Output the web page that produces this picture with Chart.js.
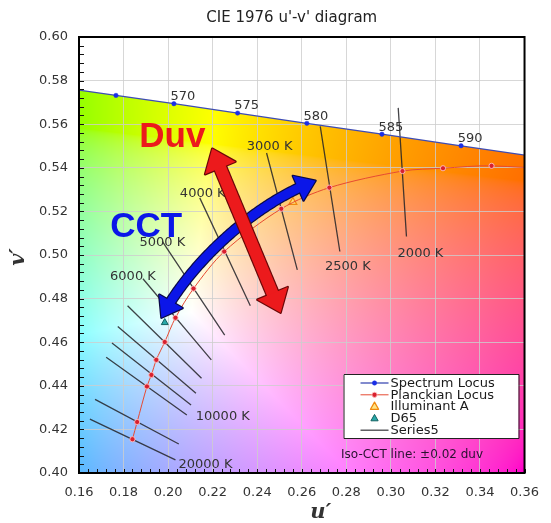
<!DOCTYPE html>
<html>
<head>
<meta charset="utf-8">
<title>CIE 1976 u'-v' diagram</title>
<script src="https://cdn.jsdelivr.net/npm/chart.js@4.4.1/dist/chart.umd.min.js"></script>
<style>
  html, body { margin: 0; padding: 0; background: #fff; }
  canvas { display: block; }
</style>
</head>
<body>
<canvas id="cie" width="551" height="523"></canvas>
<script>
// Spectrum locus (u', v') with wavelength labels as printed on the chart
const spectrumU = [0.1531, 0.1766, 0.2026, 0.2312, 0.2623, 0.2960, 0.3315, 0.3681];
const spectrumV = [0.5766, 0.5732, 0.5694, 0.5651, 0.5604, 0.5554, 0.5501, 0.5446];
const spectrumLabels = ['', '', '570', '575', '580', '585', '590', ''];

// Planckian locus
const planckT = [20000, 15000, 10000, 9000, 8000, 7000, 6000, 5000, 4000, 3000, 2500, 2000, 1800, 1600, 1200];
const planckU = [0.1840, 0.1861, 0.1905, 0.1925, 0.1947, 0.1985, 0.2033, 0.2114, 0.2252, 0.2508, 0.2724, 0.3052, 0.3234, 0.3452, 0.4059];
const planckV = [0.4155, 0.4234, 0.4397, 0.4450, 0.4519, 0.4601, 0.4712, 0.4846, 0.5016, 0.5212, 0.5309, 0.5385, 0.5398, 0.5409, 0.5369];

// Illuminants
const illumA = [0.2560, 0.5243];
const illumD65 = [0.1985, 0.4690];

// Iso-CCT lines (+/-0.02 duv), upper end (1) and lower end (2)
const isoT = [2000, 2500, 3000, 4000, 5000, 6000, 7000, 8000, 9000, 10000, 15000, 20000];
const isoLabels = ['2000 K', '2500 K', '3000 K', '4000 K', '5000 K', '6000 K', '', '', '', '10000 K', '', '20000 K'];
const isoU1 = [0.3033, 0.2683, 0.2442, 0.2142, 0.1974, 0.1887, 0.1818, 0.1774, 0.1748, 0.1722, 0.1672, 0.1649];
const isoV1 = [0.5675, 0.5590, 0.5468, 0.5262, 0.5062, 0.4891, 0.4767, 0.4672, 0.4596, 0.4531, 0.4338, 0.4247];
const isoU2 = [0.3070, 0.2771, 0.2580, 0.2369, 0.2254, 0.2194, 0.2150, 0.2125, 0.2103, 0.2084, 0.2048, 0.2033];
const isoV2 = [0.5085, 0.5016, 0.4932, 0.4767, 0.4632, 0.4519, 0.4435, 0.4366, 0.4312, 0.4266, 0.4133, 0.4060];

// Axes
const uRange = [0.16, 0.36];
const vRange = [0.40, 0.60];
const tickStep = 0.02;

const legendNames = ['Spectrum Locus', 'Planckian Locus', 'Illuminant A', 'D65', 'Series5'];
const noteText = 'Iso-CCT line: \u00b10.02 duv';

// ---------------------------------------------------------------

const FONT = '"DejaVu Sans", "Lucida Grande", sans-serif';

// where each iso-CCT label sits relative to the end of its line (px)
const isoLabelPlace = {
    2000: { end: 2, dx: 14, dy: 17 },
    2500: { end: 2, dx: 8, dy: 15 },
    3000: { end: 1, dx: 3, dy: -6 },
    4000: { end: 1, dx: 3, dy: -4 },
    5000: { end: 1, dx: 0, dy: 1 },
    6000: { end: 1, dx: -10, dy: -2 },
    10000: { end: 2, dx: 36, dy: 2 },
    20000: { end: 2, dx: 30, dy: 5 }
};

// annotation arrows / text, in u'v' units
const duvArrow = [[0.2198, 0.5488], [0.2505, 0.4735]];
const cctArrow = [[0.1970, 0.4712], [0.2075, 0.4923], [0.2347, 0.5217], [0.2662, 0.5341]];
const duvText = [0.2019, 0.5538];
const cctText = [0.1902, 0.5125];

const pts = (us, vs) => us.map((u, i) => ({ x: u, y: vs[i] }));

const isoData = [];
isoT.forEach((t, i) => {
    isoData.push({ x: isoU1[i], y: isoV1[i] }, { x: isoU2[i], y: isoV2[i] }, { x: null, y: null });
});

function locusV(u) {
    for (let i = 0; i < spectrumU.length - 1; i++) {
        if (u <= spectrumU[i + 1]) {
            const f = (u - spectrumU[i]) / (spectrumU[i + 1] - spectrumU[i]);
            return spectrumV[i] + f * (spectrumV[i + 1] - spectrumV[i]);
        }
    }
    return spectrumV[spectrumV.length - 1];
}

function gammaEnc(c) {
    c = Math.min(1, Math.max(0, c));
    return c <= 0.0031308 ? 12.92 * c : 1.055 * Math.pow(c, 1 / 2.4) - 0.055;
}

function xyzToLin(X, Y, Z) {
    return [
        3.2406 * X - 1.5372 * Y - 0.4986 * Z,
        -0.9689 * X + 1.8758 * Y + 0.0415 * Z,
        0.0557 * X - 0.2040 * Y + 1.0570 * Z
    ];
}

// equal-energy white is rendered as white
const whiteE = xyzToLin(1, 1, 1);

function uvToRgb(u, v) {
    const d = 6 * u - 16 * v + 12;
    const x = 9 * u / d, y = 4 * v / d;
    const c = xyzToLin(x / y, 1, (1 - x - y) / y).map((c, i) => Math.max(c / whiteE[i], 0));
    const m = Math.max(c[0], c[1], c[2]) || 1;
    return c.map(k => gammaEnc(k / m) * 255);
}

const chromaBackground = {
    id: 'chromaBackground',
    beforeDraw(chart) {
        const { ctx, chartArea: a, scales: { x, y } } = chart;
        const w = Math.round(a.right - a.left), h = Math.round(a.bottom - a.top);
        if (!chart.$chroma) {
            const off = document.createElement('canvas');
            off.width = w; off.height = h;
            const octx = off.getContext('2d');
            const img = octx.createImageData(w, h);
            for (let j = 0; j < h; j++) {
                const v = y.getValueForPixel(a.top + j + 0.5);
                for (let i = 0; i < w; i++) {
                    const u = x.getValueForPixel(a.left + i + 0.5);
                    const k = (j * w + i) * 4;
                    let c = [255, 255, 255];
                    if (v <= locusV(u)) c = uvToRgb(u, v);
                    img.data[k] = c[0]; img.data[k + 1] = c[1]; img.data[k + 2] = c[2]; img.data[k + 3] = 255;
                }
            }
            octx.putImageData(img, 0, 0);
            chart.$chroma = off;
        }
        ctx.drawImage(chart.$chroma, a.left, a.top);
    }
};

function sampleCubic(p, n) {
    const out = [];
    for (let i = 0; i <= n; i++) {
        const t = i / n, s = 1 - t;
        out.push([
            s * s * s * p[0][0] + 3 * s * s * t * p[1][0] + 3 * s * t * t * p[2][0] + t * t * t * p[3][0],
            s * s * s * p[0][1] + 3 * s * s * t * p[1][1] + 3 * s * t * t * p[2][1] + t * t * t * p[3][1]
        ]);
    }
    return out;
}

function pointAtLen(line, cum, s) {
    for (let i = 1; i < line.length; i++) {
        if (cum[i] >= s) {
            const f = (s - cum[i - 1]) / (cum[i] - cum[i - 1] || 1);
            return [line[i - 1][0] + f * (line[i][0] - line[i - 1][0]), line[i - 1][1] + f * (line[i][1] - line[i - 1][1])];
        }
    }
    return line[line.length - 1];
}

function drawArrow(ctx, line, shaftW, headW, headL, fill, edge) {
    const cum = [0];
    for (let i = 1; i < line.length; i++) {
        cum.push(cum[i - 1] + Math.hypot(line[i][0] - line[i - 1][0], line[i][1] - line[i - 1][1]));
    }
    const total = cum[cum.length - 1];
    const shaft = [];
    for (let s = headL - 2; s <= total - headL + 2; s += 2) shaft.push(pointAtLen(line, cum, s));
    shaft.push(pointAtLen(line, cum, total - headL + 2));

    const head = (tip, back) => {
        let dx = tip[0] - back[0], dy = tip[1] - back[1];
        const len = Math.hypot(dx, dy); dx /= len; dy /= len;
        const bx = tip[0] - dx * headL, by = tip[1] - dy * headL;
        return [tip, [bx - dy * headW / 2, by + dx * headW / 2], [bx + dy * headW / 2, by - dx * headW / 2]];
    };
    const heads = [
        head(line[0], pointAtLen(line, cum, headL)),
        head(line[line.length - 1], pointAtLen(line, cum, total - headL))
    ];

    const pass = (color, extra) => {
        ctx.strokeStyle = color; ctx.fillStyle = color;
        ctx.lineJoin = 'round'; ctx.lineCap = 'butt';
        ctx.lineWidth = shaftW + extra * 2;
        ctx.beginPath();
        shaft.forEach((p, i) => i ? ctx.lineTo(p[0], p[1]) : ctx.moveTo(p[0], p[1]));
        ctx.stroke();
        heads.forEach(hd => {
            ctx.beginPath();
            ctx.moveTo(hd[0][0], hd[0][1]); ctx.lineTo(hd[1][0], hd[1][1]); ctx.lineTo(hd[2][0], hd[2][1]);
            ctx.closePath();
            ctx.fill();
            if (extra) { ctx.lineWidth = extra * 2; ctx.stroke(); }
        });
    };
    pass(edge, 1.2);
    pass(fill, 0);
}

const annotations = {
    id: 'annotations',
    afterDatasetsDraw(chart) {
        const { ctx, chartArea: a, scales: { x, y } } = chart;
        const px = (p) => [x.getPixelForValue(p[0]), y.getPixelForValue(p[1])];
        ctx.save();

        // minor ticks on the inside of the left and bottom axes
        ctx.strokeStyle = '#111';
        ctx.lineWidth = 1;
        ctx.beginPath();
        for (let k = 0; k <= 50; k++) {
            const yy = Math.round(y.getPixelForValue(vRange[0] + k * 0.004)) + 0.5;
            ctx.moveTo(a.left, yy); ctx.lineTo(a.left + 5, yy);
            const xx = Math.round(x.getPixelForValue(uRange[0] + k * 0.004)) + 0.5;
            ctx.moveTo(xx, a.bottom); ctx.lineTo(xx, a.bottom - 4);
        }
        ctx.stroke();

        // frame
        ctx.strokeStyle = '#000';
        ctx.lineWidth = 2;
        ctx.strokeRect(a.left, a.top, a.right - a.left, a.bottom - a.top);

        // wavelength labels
        ctx.font = '13px ' + FONT;
        ctx.fillStyle = '#333';
        ctx.textAlign = 'center';
        ctx.textBaseline = 'middle';
        spectrumLabels.forEach((lab, i) => {
            if (!lab) return;
            const p = px([spectrumU[i], spectrumV[i]]);
            ctx.fillText(lab, p[0] + 9, p[1] - 7);
        });

        // iso-CCT labels
        isoT.forEach((t, i) => {
            const pl = isoLabelPlace[t];
            if (!pl || !isoLabels[i]) return;
            const p = pl.end === 1 ? px([isoU1[i], isoV1[i]]) : px([isoU2[i], isoV2[i]]);
            ctx.fillText(isoLabels[i], p[0] + pl.dx, p[1] + pl.dy);
        });

        // arrows
        drawArrow(ctx, sampleCubic(cctArrow.map(px), 80), 9, 27, 19, '#0b16e8', '#0a0a45');
        drawArrow(ctx, duvArrow.map(px), 12, 33, 21, '#ec1a1c', '#6a0808');

        ctx.font = 'bold 35px "Liberation Sans", Arial, sans-serif';
        ctx.fillStyle = '#0b16e8';
        let p = px(cctText);
        ctx.fillText('CCT', p[0], p[1]);
        ctx.fillStyle = '#ec1a1c';
        p = px(duvText);
        ctx.fillText('Duv', p[0], p[1]);

        // legend
        const ds = chart.data.datasets;
        const bx = a.right - 181, by = a.bottom - 99, bw = 175, bh = 64;
        ctx.fillStyle = '#fff';
        ctx.fillRect(bx, by, bw, bh);
        ctx.strokeStyle = '#222';
        ctx.lineWidth = 1;
        ctx.strokeRect(bx + 0.5, by + 0.5, bw, bh);
        ctx.font = '13px ' + FONT;
        ctx.textAlign = 'left';
        ctx.textBaseline = 'middle';
        legendNames.forEach((name, i) => {
            const d = ds[i];
            const ry = by + 9 + i * 11.8;
            const sx0 = bx + 17, sx1 = bx + 45, cx = (sx0 + sx1) / 2;
            if (d.showLine) {
                ctx.strokeStyle = d.borderColor;
                ctx.lineWidth = d.borderWidth;
                ctx.beginPath(); ctx.moveTo(sx0, ry); ctx.lineTo(sx1, ry); ctx.stroke();
            }
            if (d.pointRadius > 0) {
                ctx.fillStyle = d.pointBackgroundColor;
                ctx.strokeStyle = d.pointBorderColor;
                ctx.lineWidth = d.pointBorderWidth || 1;
                ctx.beginPath();
                if (d.pointStyle === 'triangle') {
                    const r = d.pointRadius;
                    ctx.moveTo(cx, ry - r); ctx.lineTo(cx + r * 0.9, ry + r * 0.6); ctx.lineTo(cx - r * 0.9, ry + r * 0.6);
                    ctx.closePath();
                } else {
                    ctx.arc(cx, ry, d.pointRadius, 0, Math.PI * 2);
                }
                ctx.fill(); ctx.stroke();
            }
            ctx.fillStyle = '#1a1a1a';
            ctx.fillText(name, bx + 47, ry + 0.5);
        });

        ctx.font = '12px ' + FONT;
        ctx.textAlign = 'center';
        ctx.fillStyle = '#2a1030';
        ctx.fillText(noteText, a.right - 112.5, a.bottom - 18);
        ctx.restore();
    },
    afterDraw(chart) {
        const { ctx, chartArea: a } = chart;
        ctx.save();
        ctx.fillStyle = '#222';
        ctx.textAlign = 'center';
        ctx.textBaseline = 'middle';
        ctx.font = '15px ' + FONT;
        ctx.fillText("CIE 1976 u'-v' diagram", (a.left + a.right) / 2 - 10, 18);

        ctx.fillStyle = '#333';
        ctx.font = 'italic bold 21px "DejaVu Serif", "Liberation Serif", serif';
        ctx.fillText("u\u2032", (a.left + a.right) / 2 + 19, 513);
        ctx.translate(19, (a.top + a.bottom) / 2 + 2);
        ctx.rotate(-Math.PI / 2);
        ctx.fillText("v\u2032", 0, 0);
        ctx.restore();
    }
};

const tickFont = { family: FONT, size: 13 };

new Chart(document.getElementById('cie'), {
    type: 'scatter',
    data: {
        datasets: [
            {
                label: legendNames[0],
                data: pts(spectrumU, spectrumV),
                showLine: true,
                borderColor: '#3e4cb4',
                borderWidth: 1.3,
                pointRadius: 2.2,
                pointBackgroundColor: '#1a2ee6',
                pointBorderColor: '#1a2ee6',
                pointBorderWidth: 0.5,
                order: 0
            },
            {
                label: legendNames[1],
                data: pts(planckU, planckV),
                showLine: true,
                tension: 0.3,
                borderColor: '#e64a32',
                borderWidth: 1,
                pointRadius: 2.6,
                pointBackgroundColor: '#d8202e',
                pointBorderColor: 'rgba(255,190,190,0.9)',
                pointBorderWidth: 1,
                order: 1
            },
            {
                label: legendNames[2],
                data: [{ x: illumA[0], y: illumA[1] }],
                pointStyle: 'triangle',
                pointRadius: 4.5,
                pointBackgroundColor: 'rgba(255,225,120,0.9)',
                pointBorderColor: '#f08a10',
                pointBorderWidth: 1.3,
                order: 2
            },
            {
                label: legendNames[3],
                data: [{ x: illumD65[0], y: illumD65[1] }],
                pointStyle: 'triangle',
                pointRadius: 4,
                pointBackgroundColor: '#28a8a8',
                pointBorderColor: '#116060',
                pointBorderWidth: 1,
                order: 3
            },
            {
                label: legendNames[4],
                data: isoData,
                showLine: true,
                spanGaps: false,
                borderColor: 'rgba(35,35,40,0.85)',
                borderWidth: 1.3,
                pointRadius: 0,
                order: 4
            }
        ]
    },
    options: {
        responsive: false,
        animation: false,
        layout: { padding: { top: 37, right: 15, left: 0, bottom: 0 } },
        plugins: {
            legend: { display: false },
            tooltip: { enabled: false },
            title: { display: false }
        },
        scales: {
            x: {
                type: 'linear',
                min: uRange[0],
                max: uRange[1],
                ticks: {
                    stepSize: tickStep,
                    padding: 12,
                    color: '#333',
                    font: tickFont,
                    maxRotation: 0,
                    autoSkip: false,
                    callback: v => v.toFixed(2)
                },
                grid: { color: 'rgba(205,205,205,0.8)', drawTicks: false },
                border: { display: false },
                afterFit: s => { s.height = 50; }
            },
            y: {
                type: 'linear',
                min: vRange[0],
                max: vRange[1],
                ticks: {
                    stepSize: tickStep,
                    padding: 11,
                    color: '#333',
                    font: tickFont,
                    autoSkip: false,
                    callback: v => v.toFixed(2)
                },
                grid: { color: 'rgba(205,205,205,0.8)', drawTicks: false },
                border: { display: false },
                afterFit: s => { s.width = 79; }
            }
        }
    },
    plugins: [chromaBackground, annotations]
});
</script>
</body>
</html>
